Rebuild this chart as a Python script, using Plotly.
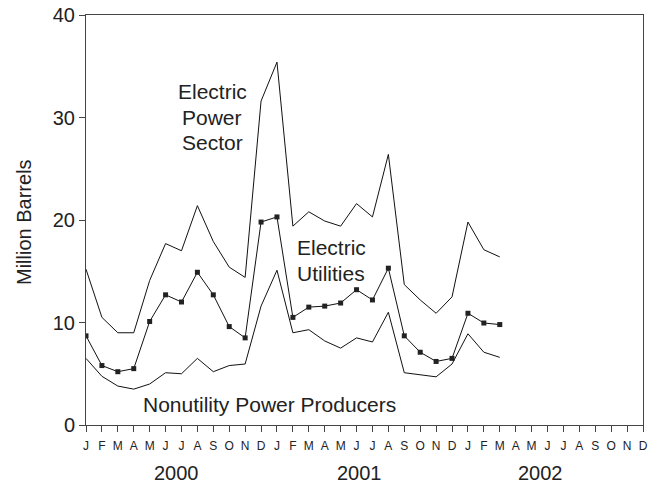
import plotly.graph_objects as go

# month ticks, Jan 2000 .. Dec 2002
months = list("JFMAMJJASOND") * 3
years = ["2000", "2001", "2002"]

# million barrels, Jan 2000 .. Mar 2002
power_sector = [15.2, 10.5, 9.0, 9.0, 14.1, 17.7, 17.0, 21.4, 17.9, 15.4, 14.4, 31.6,
                35.4, 19.4, 20.8, 19.9, 19.4, 21.6, 20.3, 26.4, 13.7, 12.2, 10.9, 12.5,
                19.8, 17.1, 16.4]
utilities = [8.7, 5.8, 5.2, 5.5, 10.1, 12.7, 12.0, 14.9, 12.7, 9.6, 8.5, 19.8,
             20.3, 10.5, 11.5, 11.6, 11.9, 13.2, 12.2, 15.3, 8.7, 7.1, 6.2, 6.5,
             10.9, 9.95, 9.8]
nonutility = [6.5, 4.75, 3.8, 3.5, 4.0, 5.1, 5.0, 6.5, 5.2, 5.8, 5.95, 11.6,
              15.1, 9.0, 9.3, 8.2, 7.5, 8.5, 8.1, 11.0, 5.1, 4.9, 4.7, 5.95,
              8.9, 7.1, 6.6]

x = list(range(len(power_sector)))
font = "Liberation Sans, Arial, sans-serif"

fig = go.Figure()
fig.add_trace(go.Scatter(x=x, y=power_sector, mode="lines",
                         line=dict(color="#111", width=1)))
fig.add_trace(go.Scatter(x=x, y=utilities, mode="lines+markers",
                         line=dict(color="#111", width=1),
                         marker=dict(symbol="square", size=5, color="#222")))
fig.add_trace(go.Scatter(x=x, y=nonutility, mode="lines",
                         line=dict(color="#111", width=1)))

fig.update_xaxes(range=[0, 35], tickvals=list(range(36)), ticktext=months,
                 ticks="outside", ticklen=6, tickcolor="#444", automargin=False,
                 ticklabelstandoff=4,
                 showline=True, linecolor="#444", mirror=True, showgrid=False,
                 zeroline=False, tickfont=dict(size=12, color="#222"))
fig.update_yaxes(range=[0, 40], tickvals=[0, 10, 20, 30, 40],
                 ticks="outside", ticklen=6, tickcolor="#444", automargin=False,
                 showline=True, linecolor="#444", mirror=True, showgrid=False,
                 zeroline=False, tickfont=dict(size=20, color="#222"))

ann = []


def label(txt, px, py, size=21, angle=0):
    # px, py: screen pixels of the text centre
    ann.append(dict(text=txt, x=(px - 86) / 557, y=(425.5 - py) / 411,
                    xref="paper", yref="paper", xanchor="center", yanchor="middle",
                    showarrow=False, textangle=angle, font=dict(size=size)))


for yr, px in zip(years, [176, 359, 540]):
    label(yr, px, 474, size=20)

label("Electric", 212, 91)
label("Power", 212, 117)
label("Sector", 212, 142)
label("Electric", 331, 248)
label("Utilities", 331, 274)
label("Nonutility Power Producers", 269, 405)
label("Million Barrels", 24, 222, size=20, angle=-90)

fig.update_layout(width=658, height=485, showlegend=False,
                  margin=dict(l=86, r=15, t=14.5, b=59.5),
                  plot_bgcolor="white", paper_bgcolor="white",
                  font=dict(family=font, color="#222"), annotations=ann)

# drop the default body margin so the figure sits at the page corner
fig.write_html("out.html", config={"displayModeBar": False},
               post_script="document.body.style.margin='0';")
